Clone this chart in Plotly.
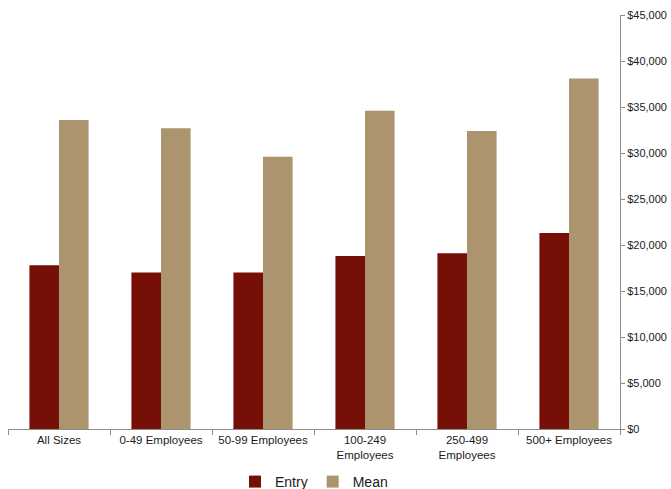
import plotly.graph_objects as go

categories = ["All Sizes", "0-49 Employees", "50-99 Employees", "100-249<br>Employees",
              "250-499<br>Employees", "500+ Employees"]
entry = [17800, 17000, 17000, 18800, 19100, 21300]
mean = [33600, 32700, 29600, 34600, 32400, 38100]

fig = go.Figure()
fig.add_bar(name="Entry", x=categories, y=entry, marker_color="#761006", marker_line_width=0)
fig.add_bar(name="Mean", x=categories, y=mean, marker_color="#AC946E", marker_line_width=0)

fig.update_layout(
    width=671, height=510,
    barmode="group", bargap=0.42, bargroupgap=0,
    plot_bgcolor="white", paper_bgcolor="white",
    margin=dict(l=8, r=51, t=15, b=81),
    font=dict(family="Liberation Sans, Arial, sans-serif", color="#1a1a1a", size=11),
    legend=dict(orientation="h", x=0.5, xanchor="center", y=-0.128, yanchor="middle",
                font=dict(size=14), itemwidth=30, traceorder="normal"),
    showlegend=True,
)
fig.update_xaxes(showline=True, linecolor="#8c8c8c", linewidth=1, ticks="outside",
                 tickson="boundaries", ticklen=5, tickcolor="#8c8c8c", showgrid=False,
                 tickfont=dict(size=11.5), automargin=False)
fig.update_yaxes(side="right", range=[0, 45000], dtick=5000, tickprefix="$", tickformat=",",
                 showline=True, linecolor="#8c8c8c", linewidth=1, ticks="outside", ticklen=4,
                 tickcolor="#8c8c8c", showgrid=False, zeroline=False, tickfont=dict(size=11),
                 automargin=False)

fig.write_html("out.html", config={"displayModeBar": False},
               post_script="document.body.style.margin='0';document.body.style.overflow='hidden';")
